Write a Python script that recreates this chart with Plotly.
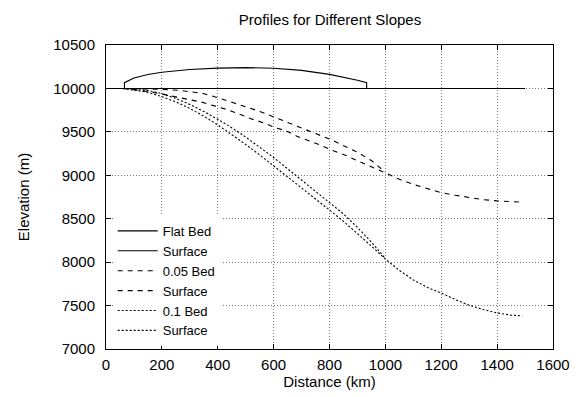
import plotly.graph_objects as go

# Flat bed
flat_bed_x = [0, 1500]
flat_bed_y = [10000, 10000]

# Flat-bed surface
flat_surf_x = [66, 66, 100, 150, 200, 300, 400, 500, 600, 700, 800, 850, 900, 933, 933]
flat_surf_y = [10000, 10066, 10120, 10160, 10186, 10218, 10234, 10240, 10232, 10208, 10162, 10132, 10095, 10066, 10000]

# 0.05 slope bed
bed05_x = [60, 150, 200, 250, 300, 343, 391, 430, 474, 516, 563, 600, 647, 683, 750, 800, 850, 900, 950, 1000,
           1050, 1100, 1150, 1200, 1250, 1300, 1350, 1400, 1450, 1490]
bed05_y = [10000, 9965, 9935, 9900, 9870, 9842, 9796, 9760, 9709, 9654, 9605, 9555, 9508, 9450, 9370, 9300, 9240,
           9170, 9100, 9030, 8955, 8895, 8845, 8800, 8770, 8742, 8720, 8705, 8695, 8690]

# 0.05 slope surface
surf05_x = [60, 150, 200, 265, 300, 348, 400, 432, 480, 516, 563, 600, 647, 683, 750, 800, 850, 900, 950, 980, 1000]
surf05_y = [10000, 9996, 9990, 9977, 9965, 9942, 9893, 9860, 9815, 9772, 9720, 9672, 9610, 9559, 9480, 9418, 9345,
            9265, 9170, 9095, 9035]

# 0.1 slope bed
bed10_x = [60, 150, 200, 250, 300, 350, 400, 450, 500, 550, 600, 650, 700, 750, 800, 850, 900, 950, 1000,
           1050, 1100, 1150, 1200, 1250, 1300, 1350, 1400, 1450, 1490]
bed10_y = [10000, 9955, 9905, 9845, 9770, 9680, 9580, 9470, 9355, 9235, 9110, 8985, 8860, 8730, 8600, 8470, 8330,
           8185, 8035, 7905, 7795, 7710, 7645, 7570, 7505, 7455, 7415, 7390, 7380]

# 0.1 slope surface
surf10_x = [60, 150, 200, 250, 300, 350, 400, 450, 500, 550, 600, 650, 700, 750, 800, 850, 900, 950, 990, 1000]
surf10_y = [10000, 9978, 9940, 9885, 9815, 9735, 9645, 9548, 9440, 9325, 9205, 9075, 8945, 8815, 8685, 8555, 8400,
            8230, 8080, 8040]

x_ticks = [0, 200, 400, 600, 800, 1000, 1200, 1400, 1600]
y_ticks = [7000, 7500, 8000, 8500, 9000, 9500, 10000, 10500]

FONT = "Liberation Sans, Arial, Helvetica, sans-serif"

series = [
    ("Flat Bed", flat_bed_x, flat_bed_y, "solid"),
    ("Surface", flat_surf_x, flat_surf_y, "solid"),
    ("0.05 Bed", bed05_x, bed05_y, "5px,5px"),
    ("Surface", surf05_x, surf05_y, "5px,5px"),
    ("0.1 Bed", bed10_x, bed10_y, "2px,2px"),
    ("Surface", surf10_x, surf10_y, "2px,2px"),
]

fig = go.Figure()
for name, xs, ys, dash in series:
    fig.add_trace(go.Scatter(x=xs, y=ys, mode="lines", name=name,
                             line=dict(color="black", width=1.1, dash=dash)))

axis_common = dict(
    showline=True, linecolor="black", linewidth=1, mirror="ticks",
    ticks="inside", ticklen=5, tickcolor="black", tickwidth=1,
    showgrid=True, gridcolor="#777777", gridwidth=1, griddash="1px,2px",
    zeroline=False, automargin=False,
    tickfont=dict(family=FONT, size=15, color="black"),
)

fig.update_xaxes(range=[0, 1600], tickvals=x_ticks, ticktext=[str(v) for v in x_ticks],
                 ticklabelstandoff=2,
                 title=dict(text="Distance (km)", font=dict(family=FONT, size=15, color="black"), standoff=2),
                 **axis_common)
fig.update_yaxes(range=[7000, 10500], tickvals=y_ticks, ticktext=[str(v) for v in y_ticks],
                 ticklabelstandoff=7,
                 title=dict(text="Elevation (m)", font=dict(family=FONT, size=15, color="black"), standoff=20),
                 **axis_common)

# page body adds an 8px offset; figure is sized so the plot lands where the reference has it
fig.update_layout(
    width=573, height=389,
    margin=dict(l=98, r=28, t=37, b=48, autoexpand=False),
    paper_bgcolor="white", plot_bgcolor="white",
    title=dict(text="Profiles for Different Slopes", x=0.562, xanchor="center", y=0.969, yanchor="middle",
               font=dict(family=FONT, size=15, color="black")),
    legend=dict(x=0.015, y=0.01, xanchor="left", yanchor="bottom", bgcolor="white",
                font=dict(family=FONT, size=13, color="black"), tracegroupgap=0,
                itemwidth=40, borderwidth=0),
    showlegend=True,
)

fig.write_html("out.html")
